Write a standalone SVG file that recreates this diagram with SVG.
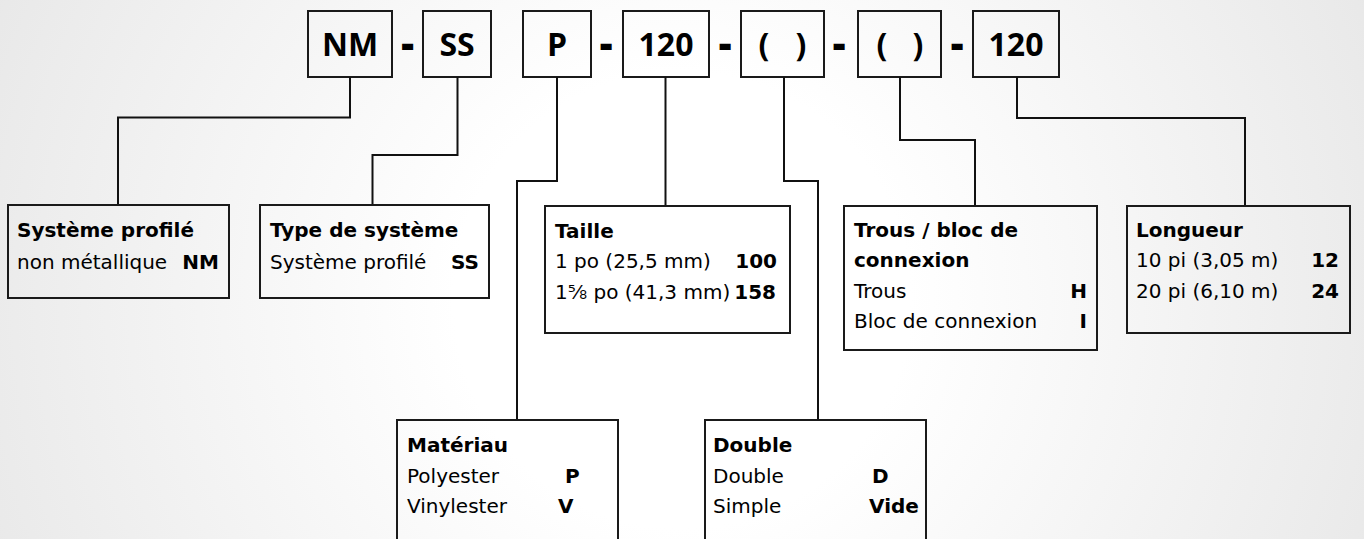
<svg xmlns="http://www.w3.org/2000/svg" width="1364" height="539" viewBox="0 0 1364 539">
<defs>
<radialGradient id="bg" gradientUnits="userSpaceOnUse" cx="682" cy="300" r="760">
<stop offset="0.3" stop-color="#ffffff"/>
<stop offset="1" stop-color="#e8e8e8"/>
</radialGradient>
</defs>
<style>
.box{fill:none;stroke:#1a1a1a;stroke-width:2}
.top{font-family:"Open Sans","Liberation Sans",sans-serif;font-weight:700;font-size:32px;fill:#000;text-anchor:middle}
.dash{font-family:"Open Sans","Liberation Sans",sans-serif;font-weight:800;font-size:40px;fill:#000;text-anchor:middle}
.t{font-family:"DejaVu Sans","Liberation Sans",sans-serif;font-size:20px;fill:#000}
.b{font-weight:700}
.e{text-anchor:end}
.conn path{fill:none;stroke:#111;stroke-width:2}
</style>
<rect x="0" y="0" width="1364" height="539" fill="url(#bg)"/>

<g id="code-nm"><rect class="box" x="308" y="11" width="84" height="66"/><text class="top" x="350" y="56">NM</text></g>
<g id="dash1"><text class="dash" x="407.5" y="58">-</text></g>
<g id="code-ss"><rect class="box" x="423" y="11" width="68" height="66"/><text class="top" x="457" y="56">SS</text></g>
<g id="code-p"><rect class="box" x="523" y="11" width="68" height="66"/><text class="top" x="557" y="56">P</text></g>
<g id="dash2"><text class="dash" x="606" y="58">-</text></g>
<g id="code-120a"><rect class="box" x="623" y="11" width="86" height="66"/><text class="top" x="666" y="56">120</text></g>
<g id="dash3"><text class="dash" x="725" y="58">-</text></g>
<g id="code-paren1"><rect class="box" x="741" y="11" width="83" height="66"/><text class="top" x="764" y="56">(</text><text class="top" x="801" y="56">)</text></g>
<g id="dash4"><text class="dash" x="839" y="58">-</text></g>
<g id="code-paren2"><rect class="box" x="858" y="11" width="83" height="66"/><text class="top" x="882" y="56">(</text><text class="top" x="918" y="56">)</text></g>
<g id="dash5"><text class="dash" x="957" y="58">-</text></g>
<g id="code-120b"><rect class="box" x="973" y="11" width="86" height="66"/><text class="top" x="1016" y="56">120</text></g>

<g class="conn" id="connectors">
<path d="M350 77 V117.5 H118 V205"/>
<path d="M457.5 77 V155 H372.5 V205"/>
<path d="M557 77 V181 H517 V420"/>
<path d="M665.5 77 V206"/>
<path d="M784 77 V181 H818 V420"/>
<path d="M900 77 V140 H975 V206"/>
<path d="M1017 77 V118 H1245 V206"/>
</g>

<g id="box-systeme">
<rect class="box" x="8" y="205" width="221" height="93"/>
<text class="t b" x="17" y="237">Système profilé</text>
<text class="t" x="17" y="269">non métallique</text>
<text class="t b e" x="219" y="269">NM</text>
</g>
<g id="box-type">
<rect class="box" x="260" y="205" width="229" height="93"/>
<text class="t b" x="270" y="237">Type de système</text>
<text class="t" x="270" y="269">Système profilé</text>
<text class="t b e" x="479" y="269">SS</text>
</g>
<g id="box-taille">
<rect class="box" x="545" y="206" width="245" height="127"/>
<text class="t b" x="555" y="238">Taille</text>
<text class="t" x="555" y="268">1 po (25,5 mm)</text>
<text class="t b e" x="777" y="268">100</text>
<text class="t" x="555" y="299">1⅝ po (41,3 mm)</text>
<text class="t b e" x="776" y="299">158</text>
</g>
<g id="box-trous">
<rect class="box" x="844" y="206" width="253" height="144"/>
<text class="t b" x="854" y="237">Trous / bloc de</text>
<text class="t b" x="854" y="267">connexion</text>
<text class="t" x="854" y="298">Trous</text>
<text class="t b e" x="1087" y="298">H</text>
<text class="t" x="854" y="328">Bloc de connexion</text>
<text class="t b e" x="1087" y="328">I</text>
</g>
<g id="box-longueur">
<rect class="box" x="1127" y="206" width="223" height="127"/>
<text class="t b" x="1136" y="237">Longueur</text>
<text class="t" x="1136" y="267">10 pi (3,05 m)</text>
<text class="t b e" x="1339" y="267">12</text>
<text class="t" x="1136" y="298">20 pi (6,10 m)</text>
<text class="t b e" x="1339" y="298">24</text>
</g>
<g id="box-materiau">
<rect class="box" x="397" y="420" width="221" height="130"/>
<text class="t b" x="407" y="452">Matériau</text>
<text class="t" x="407" y="483">Polyester</text>
<text class="t b" x="565" y="483">P</text>
<text class="t" x="407" y="513">Vinylester</text>
<text class="t b" x="558" y="513">V</text>
</g>
<g id="box-double">
<rect class="box" x="705" y="420" width="221" height="130"/>
<text class="t b" x="713" y="452">Double</text>
<text class="t" x="713" y="483">Double</text>
<text class="t b" x="872" y="483">D</text>
<text class="t" x="713" y="513">Simple</text>
<text class="t b" x="869" y="513">Vide</text>
</g>
</svg>
